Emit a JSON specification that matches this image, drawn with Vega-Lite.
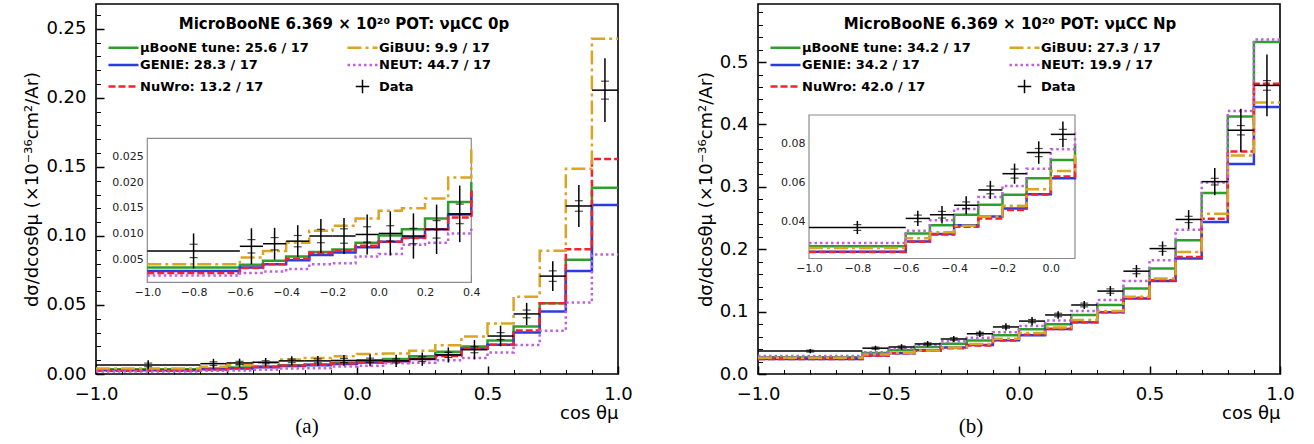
{
  "$schema": "https://vega.github.io/schema/vega-lite/v6.json",
  "background": "white",
  "padding": {"left": 23, "top": 3, "right": 5, "bottom": 0},
  "spacing": 62,
  "datasets": {
    "a_models": [
      {"x": -1.0, "uB": 0.0034, "GENIE": 0.0027, "NuWro": 0.0023, "GiBUU": 0.0040, "NEUT": 0.0018},
      {"x": -0.6, "uB": 0.0039, "GENIE": 0.0034, "NuWro": 0.0033, "GiBUU": 0.0053, "NEUT": 0.0023},
      {"x": -0.5, "uB": 0.0047, "GENIE": 0.0040, "NuWro": 0.0040, "GiBUU": 0.0066, "NEUT": 0.0026},
      {"x": -0.4, "uB": 0.0055, "GENIE": 0.0048, "NuWro": 0.0051, "GiBUU": 0.0082, "NEUT": 0.0031},
      {"x": -0.3, "uB": 0.0064, "GENIE": 0.0058, "NuWro": 0.0062, "GiBUU": 0.0105, "NEUT": 0.0040},
      {"x": -0.2, "uB": 0.0069, "GENIE": 0.0063, "NuWro": 0.0067, "GiBUU": 0.0115, "NEUT": 0.0042},
      {"x": -0.1, "uB": 0.0082, "GENIE": 0.0073, "NuWro": 0.0076, "GiBUU": 0.0129, "NEUT": 0.0055},
      {"x": 0.0, "uB": 0.0096, "GENIE": 0.0084, "NuWro": 0.0084, "GiBUU": 0.0144, "NEUT": 0.0060},
      {"x": 0.1, "uB": 0.0108, "GENIE": 0.0092, "NuWro": 0.0091, "GiBUU": 0.0149, "NEUT": 0.0078},
      {"x": 0.2, "uB": 0.0129, "GENIE": 0.0108, "NuWro": 0.0108, "GiBUU": 0.0168, "NEUT": 0.0082},
      {"x": 0.3, "uB": 0.0161, "GENIE": 0.0137, "NuWro": 0.0131, "GiBUU": 0.0209, "NEUT": 0.0100},
      {"x": 0.4, "uB": 0.0200, "GENIE": 0.0183, "NuWro": 0.0183, "GiBUU": 0.0272, "NEUT": 0.0115},
      {"x": 0.5, "uB": 0.0243, "GENIE": 0.0212, "NuWro": 0.0212, "GiBUU": 0.0366, "NEUT": 0.0156},
      {"x": 0.6, "uB": 0.0344, "GENIE": 0.0300, "NuWro": 0.0315, "GiBUU": 0.0560, "NEUT": 0.0210},
      {"x": 0.7, "uB": 0.0512, "GENIE": 0.0452, "NuWro": 0.0512, "GiBUU": 0.0892, "NEUT": 0.0313},
      {"x": 0.8, "uB": 0.0827, "GENIE": 0.0746, "NuWro": 0.0904, "GiBUU": 0.1486, "NEUT": 0.0517},
      {"x": 0.9, "uB": 0.1349, "GENIE": 0.1224, "NuWro": 0.1558, "GiBUU": 0.2429, "NEUT": 0.0866},
      {"x": 1.0, "uB": 0.1349, "GENIE": 0.1224, "NuWro": 0.1558, "GiBUU": 0.2429, "NEUT": 0.0866}
    ],
    "a_data": [
      {"lo": -1.0, "hi": -0.6, "c": -0.8, "y": 0.0066, "ylo": 0.0032, "yhi": 0.0100, "slo": 0.0053, "shi": 0.0079},
      {"lo": -0.6, "hi": -0.5, "c": -0.55, "y": 0.0075, "ylo": 0.0040, "yhi": 0.0110, "slo": 0.0062, "shi": 0.0088},
      {"lo": -0.5, "hi": -0.4, "c": -0.45, "y": 0.0080, "ylo": 0.0049, "yhi": 0.0111, "slo": 0.0068, "shi": 0.0092},
      {"lo": -0.4, "hi": -0.3, "c": -0.35, "y": 0.0085, "ylo": 0.0054, "yhi": 0.0116, "slo": 0.0074, "shi": 0.0096},
      {"lo": -0.3, "hi": -0.2, "c": -0.25, "y": 0.0095, "ylo": 0.0062, "yhi": 0.0128, "slo": 0.0082, "shi": 0.0108},
      {"lo": -0.2, "hi": -0.1, "c": -0.15, "y": 0.0095, "ylo": 0.0060, "yhi": 0.0130, "slo": 0.0081, "shi": 0.0109},
      {"lo": -0.1, "hi": 0.0, "c": -0.05, "y": 0.0098, "ylo": 0.0059, "yhi": 0.0137, "slo": 0.0083, "shi": 0.0113},
      {"lo": 0.0, "hi": 0.1, "c": 0.05, "y": 0.0100, "ylo": 0.0057, "yhi": 0.0143, "slo": 0.0085, "shi": 0.0115},
      {"lo": 0.1, "hi": 0.2, "c": 0.15, "y": 0.0095, "ylo": 0.0051, "yhi": 0.0139, "slo": 0.0080, "shi": 0.0110},
      {"lo": 0.2, "hi": 0.3, "c": 0.25, "y": 0.0108, "ylo": 0.0060, "yhi": 0.0156, "slo": 0.0091, "shi": 0.0125},
      {"lo": 0.3, "hi": 0.4, "c": 0.35, "y": 0.0138, "ylo": 0.0083, "yhi": 0.0193, "slo": 0.0119, "shi": 0.0157},
      {"lo": 0.4, "hi": 0.5, "c": 0.45, "y": 0.0176, "ylo": 0.0106, "yhi": 0.0246, "slo": 0.0154, "shi": 0.0198},
      {"lo": 0.5, "hi": 0.6, "c": 0.55, "y": 0.0275, "ylo": 0.0200, "yhi": 0.0350, "slo": 0.0250, "shi": 0.0300},
      {"lo": 0.6, "hi": 0.7, "c": 0.65, "y": 0.0435, "ylo": 0.0355, "yhi": 0.0515, "slo": 0.0407, "shi": 0.0463},
      {"lo": 0.7, "hi": 0.8, "c": 0.75, "y": 0.0709, "ylo": 0.0601, "yhi": 0.0817, "slo": 0.0671, "shi": 0.0747},
      {"lo": 0.8, "hi": 0.9, "c": 0.85, "y": 0.1217, "ylo": 0.1065, "yhi": 0.1369, "slo": 0.1179, "shi": 0.1255},
      {"lo": 0.9, "hi": 1.0, "c": 0.95, "y": 0.2056, "ylo": 0.1825, "yhi": 0.2287, "slo": 0.1991, "shi": 0.2121}
    ],
    "b_models": [
      {"x": -1.0, "uB": 0.0270, "GENIE": 0.0242, "NuWro": 0.0240, "GiBUU": 0.0261, "NEUT": 0.0287},
      {"x": -0.6, "uB": 0.0336, "GENIE": 0.0295, "NuWro": 0.0293, "GiBUU": 0.0312, "NEUT": 0.0350},
      {"x": -0.5, "uB": 0.0379, "GENIE": 0.0333, "NuWro": 0.0331, "GiBUU": 0.0342, "NEUT": 0.0405},
      {"x": -0.4, "uB": 0.0433, "GENIE": 0.0379, "NuWro": 0.0371, "GiBUU": 0.0376, "NEUT": 0.0462},
      {"x": -0.3, "uB": 0.0484, "GENIE": 0.0424, "NuWro": 0.0414, "GiBUU": 0.0424, "NEUT": 0.0525},
      {"x": -0.2, "uB": 0.0536, "GENIE": 0.0465, "NuWro": 0.0457, "GiBUU": 0.0479, "NEUT": 0.0582},
      {"x": -0.1, "uB": 0.0621, "GENIE": 0.0539, "NuWro": 0.0537, "GiBUU": 0.0565, "NEUT": 0.0671},
      {"x": 0.0, "uB": 0.0716, "GENIE": 0.0621, "NuWro": 0.0630, "GiBUU": 0.0659, "NEUT": 0.0771},
      {"x": 0.1, "uB": 0.0797, "GENIE": 0.0723, "NuWro": 0.0723, "GiBUU": 0.0744, "NEUT": 0.0856},
      {"x": 0.2, "uB": 0.0946, "GENIE": 0.0829, "NuWro": 0.0829, "GiBUU": 0.0867, "NEUT": 0.1010},
      {"x": 0.3, "uB": 0.1106, "GENIE": 0.0989, "NuWro": 0.0989, "GiBUU": 0.1010, "NEUT": 0.1186},
      {"x": 0.4, "uB": 0.1372, "GENIE": 0.1212, "NuWro": 0.1223, "GiBUU": 0.1239, "NEUT": 0.1489},
      {"x": 0.5, "uB": 0.1690, "GENIE": 0.1489, "NuWro": 0.1504, "GiBUU": 0.1531, "NEUT": 0.1823},
      {"x": 0.6, "uB": 0.2142, "GENIE": 0.1850, "NuWro": 0.1877, "GiBUU": 0.1956, "NEUT": 0.2313},
      {"x": 0.7, "uB": 0.2900, "GENIE": 0.2435, "NuWro": 0.2488, "GiBUU": 0.2568, "NEUT": 0.3070},
      {"x": 0.8, "uB": 0.4125, "GENIE": 0.3365, "NuWro": 0.3567, "GiBUU": 0.3500, "NEUT": 0.4216},
      {"x": 0.9, "uB": 0.5320, "GENIE": 0.4280, "NuWro": 0.4650, "GiBUU": 0.4350, "NEUT": 0.5360},
      {"x": 1.0, "uB": 0.5320, "GENIE": 0.4280, "NuWro": 0.4650, "GiBUU": 0.4350, "NEUT": 0.5360}
    ],
    "b_data": [
      {"lo": -1.0, "hi": -0.6, "c": -0.8, "y": 0.0367, "ylo": 0.0333, "yhi": 0.0401, "slo": 0.0352, "shi": 0.0382},
      {"lo": -0.6, "hi": -0.5, "c": -0.55, "y": 0.0414, "ylo": 0.0375, "yhi": 0.0453, "slo": 0.0397, "shi": 0.0431},
      {"lo": -0.5, "hi": -0.4, "c": -0.45, "y": 0.0433, "ylo": 0.0388, "yhi": 0.0478, "slo": 0.0416, "shi": 0.0450},
      {"lo": -0.4, "hi": -0.3, "c": -0.35, "y": 0.0482, "ylo": 0.0435, "yhi": 0.0529, "slo": 0.0465, "shi": 0.0499},
      {"lo": -0.3, "hi": -0.2, "c": -0.25, "y": 0.0561, "ylo": 0.0514, "yhi": 0.0608, "slo": 0.0541, "shi": 0.0581},
      {"lo": -0.2, "hi": -0.1, "c": -0.15, "y": 0.0645, "ylo": 0.0593, "yhi": 0.0697, "slo": 0.0622, "shi": 0.0668},
      {"lo": -0.1, "hi": 0.0, "c": -0.05, "y": 0.0754, "ylo": 0.0696, "yhi": 0.0812, "slo": 0.0733, "shi": 0.0775},
      {"lo": 0.0, "hi": 0.1, "c": 0.05, "y": 0.0848, "ylo": 0.0782, "yhi": 0.0914, "slo": 0.0822, "shi": 0.0874},
      {"lo": 0.1, "hi": 0.2, "c": 0.15, "y": 0.0946, "ylo": 0.0886, "yhi": 0.1006, "slo": 0.0918, "shi": 0.0974},
      {"lo": 0.2, "hi": 0.3, "c": 0.25, "y": 0.1106, "ylo": 0.1041, "yhi": 0.1171, "slo": 0.1076, "shi": 0.1136},
      {"lo": 0.3, "hi": 0.4, "c": 0.35, "y": 0.1329, "ylo": 0.1249, "yhi": 0.1409, "slo": 0.1294, "shi": 0.1364},
      {"lo": 0.4, "hi": 0.5, "c": 0.45, "y": 0.1648, "ylo": 0.1548, "yhi": 0.1748, "slo": 0.1608, "shi": 0.1688},
      {"lo": 0.5, "hi": 0.6, "c": 0.55, "y": 0.2010, "ylo": 0.1895, "yhi": 0.2125, "slo": 0.1965, "shi": 0.2055},
      {"lo": 0.6, "hi": 0.7, "c": 0.65, "y": 0.2477, "ylo": 0.2327, "yhi": 0.2627, "slo": 0.2427, "shi": 0.2527},
      {"lo": 0.7, "hi": 0.8, "c": 0.75, "y": 0.3083, "ylo": 0.2863, "yhi": 0.3303, "slo": 0.3030, "shi": 0.3136},
      {"lo": 0.8, "hi": 0.9, "c": 0.85, "y": 0.3907, "ylo": 0.3562, "yhi": 0.4252, "slo": 0.3832, "shi": 0.3982},
      {"lo": 0.9, "hi": 1.0, "c": 0.95, "y": 0.4625, "ylo": 0.4130, "yhi": 0.5120, "slo": 0.4548, "shi": 0.4702}
    ]
  },
  "hconcat": [
    {
      "width": 522,
      "height": 370,
      "title": {"text": "(a)", "orient": "bottom", "anchor": "middle", "frame": "group", "dx": -50, "offset": -6, "font": "Liberation Serif", "fontSize": 21, "fontWeight": "normal", "color": "black"},
      "layer": [
        {
          "layer": [
            {
              "data": {"name": "a_models"},
              "transform": [{"fold": ["uB", "GENIE", "NuWro", "GiBUU", "NEUT"], "as": ["model", "val"]}],
              "mark": {"type": "line", "interpolate": "step-after", "strokeWidth": 2.5},
              "encoding": {
                "x": {"field": "x", "type": "quantitative", "scale": {"domain": [-1, 1], "nice": false, "zero": false},
                  "axis": {"orient": "bottom", "values": [-1, -0.5, 0, 0.5, 1], "format": ".1f", "domain": false, "grid": false, "tickSize": -8, "tickWidth": 1.5, "tickColor": "black", "labelFontSize": 18, "labelColor": "black", "labelPadding": 19, "labelFlush": false, "labelOverlap": false, "title": "cos θμ", "titleAnchor": "end", "titleFontSize": 18, "titleFontWeight": "normal", "titleColor": "black", "titlePadding": 1}},
                "y": {"field": "val", "type": "quantitative", "scale": {"domain": [0, 0.268], "nice": false, "zero": false},
                  "axis": {"orient": "left", "values": [0, 0.05, 0.1, 0.15, 0.2, 0.25], "format": ".2f", "domain": false, "grid": false, "tickSize": -8, "tickWidth": 1.5, "tickColor": "black", "labelFontSize": 18, "labelColor": "black", "labelPadding": 18, "labelFlush": false, "labelOverlap": false, "title": "dσ/dcosθμ (×10⁻³⁶cm²/Ar)", "titleFontSize": 18, "titleFontWeight": "normal", "titleColor": "black", "titlePadding": 4}},
                "color": {"field": "model", "type": "nominal",
                  "scale": {"domain": ["uB", "GENIE", "NuWro", "GiBUU", "NEUT", "Data"], "range": ["#2e9e2e", "#2b3be0", "#f5222d", "#daa520", "#bf5fe0", "black"]},
                  "legend": {"orient": "none", "legendX": 21, "legendY": 13, "padding": 0, "title": "MicroBooNE 6.369 × 10²⁰ POT: νμCC 0p", "titleLimit": 500, "titleFontSize": 15, "titleFontWeight": "bold", "titleColor": "black", "titleAnchor": "middle", "titleAlign": "center", "titlePadding": 9, "columns": 2, "columnPadding": 33, "rowPadding": 3.5, "symbolType": "stroke", "symbolSize": 900, "symbolStrokeWidth": 2.5, "labelFontSize": 13, "labelFontWeight": "bold", "labelColor": "black", "labelOffset": 10, "labelLimit": 400,
                    "labelExpr": "datum.label == 'uB' ? 'µBooNE tune: 25.6 / 17' : datum.label == 'GENIE' ? 'GENIE: 28.3 / 17' : datum.label == 'NuWro' ? 'NuWro: 13.2 / 17' : datum.label == 'GiBUU' ? 'GiBUU: 9.9 / 17' : datum.label == 'NEUT' ? 'NEUT: 44.7 / 17' : 'Data'",
                    "encode": {"title": {"update": {"dx": {"value": 40}}}, "symbols": {"update": {"shape": {"signal": "datum.value === 'Data' ? 'M-0.45,0L0.45,0M0,-0.45L0,0.45' : 'stroke'"}, "strokeWidth": {"signal": "datum.value === 'Data' ? 1.5 : 2.5"}}}}}},
                "strokeDash": {"field": "model", "type": "nominal",
                  "scale": {"domain": ["uB", "GENIE", "NuWro", "GiBUU", "NEUT", "Data"], "range": [[1, 0], [1, 0], [7, 3], [14, 4, 3, 4], [2.5, 3], [1, 0]]},
                  "legend": {"orient": "none", "legendX": 21, "legendY": 13, "padding": 0, "title": "MicroBooNE 6.369 × 10²⁰ POT: νμCC 0p", "titleLimit": 500, "titleFontSize": 15, "titleFontWeight": "bold", "titleColor": "black", "titleAnchor": "middle", "titleAlign": "center", "titlePadding": 9, "columns": 2, "columnPadding": 33, "rowPadding": 3.5, "symbolType": "stroke", "symbolSize": 900, "symbolStrokeWidth": 2.5, "labelFontSize": 13, "labelFontWeight": "bold", "labelColor": "black", "labelOffset": 10, "labelLimit": 400,
                    "labelExpr": "datum.label == 'uB' ? 'µBooNE tune: 25.6 / 17' : datum.label == 'GENIE' ? 'GENIE: 28.3 / 17' : datum.label == 'NuWro' ? 'NuWro: 13.2 / 17' : datum.label == 'GiBUU' ? 'GiBUU: 9.9 / 17' : datum.label == 'NEUT' ? 'NEUT: 44.7 / 17' : 'Data'",
                    "encode": {"title": {"update": {"dx": {"value": 40}}}, "symbols": {"update": {"shape": {"signal": "datum.value === 'Data' ? 'M-0.45,0L0.45,0M0,-0.45L0,0.45' : 'stroke'"}, "strokeWidth": {"signal": "datum.value === 'Data' ? 1.5 : 2.5"}}}}}}
              }
            },
            {
              "data": {"name": "a_data"},
              "mark": {"type": "rule", "color": "black", "strokeWidth": 1.5},
              "encoding": {
                "x": {"field": "lo", "type": "quantitative", "axis": {"orient": "bottom", "values": [-0.9, -0.8, -0.7, -0.6, -0.4, -0.3, -0.2, -0.1, 0.1, 0.2, 0.3, 0.4, 0.6, 0.7, 0.8, 0.9], "labels": false, "domain": false, "grid": false, "tickSize": -4.5, "tickWidth": 1, "tickColor": "black", "title": null}},
                "x2": {"field": "hi"},
                "y": {"field": "y", "type": "quantitative", "axis": {"orient": "left", "values": [0.01, 0.02, 0.03, 0.04, 0.06, 0.07, 0.08, 0.09, 0.11, 0.12, 0.13, 0.14, 0.16, 0.17, 0.18, 0.19, 0.21, 0.22, 0.23, 0.24, 0.26], "labels": false, "domain": false, "grid": false, "tickSize": -4.5, "tickWidth": 1, "tickColor": "black", "title": null}}
              }
            },
            {
              "data": {"name": "a_data"},
              "mark": {"type": "rule", "color": "black", "strokeWidth": 1.5},
              "encoding": {
                "x": {"field": "c", "type": "quantitative", "axis": null},
                "y": {"field": "ylo", "type": "quantitative", "axis": null},
                "y2": {"field": "yhi"}
              }
            },
            {
              "data": {"name": "a_data"},
              "mark": {"type": "tick", "orient": "horizontal", "color": "black", "size": 8, "thickness": 1.2},
              "encoding": {
                "x": {"field": "c", "type": "quantitative", "axis": null},
                "y": {"field": "slo", "type": "quantitative", "axis": null}
              }
            },
            {
              "data": {"name": "a_data"},
              "mark": {"type": "tick", "orient": "horizontal", "color": "black", "size": 8, "thickness": 1.2},
              "encoding": {
                "x": {"field": "c", "type": "quantitative", "axis": null},
                "y": {"field": "shi", "type": "quantitative", "axis": null}
              }
            }
          ],
          "resolve": {"axis": {"x": "independent", "y": "independent"}}
        },
        {
          "layer": [
            {
              "data": {"values": [{}]},
              "mark": {"type": "rect", "fill": "white", "stroke": "#8c8c8c", "strokeWidth": 1.2},
              "encoding": {
                "x": {"datum": -1, "type": "quantitative", "scale": {"domain": [-1, 0.4], "range": [51.3, 375.3], "nice": false, "zero": false},
                  "axis": {"orient": "bottom", "offset": -91.7, "values": [-1, -0.8, -0.6, -0.4, -0.2, 0, 0.2, 0.4], "format": ".1f", "domain": false, "grid": false, "tickSize": -8, "tickWidth": 1, "tickColor": "#444", "labelFontSize": 11, "labelColor": "#222", "labelPadding": 12, "labelFlush": false, "labelOverlap": false, "title": null}},
                "x2": {"datum": 0.4},
                "y": {"datum": 0.0005, "type": "quantitative", "scale": {"domain": [0.0005, 0.0285], "range": [278.3, 134.3], "nice": false, "zero": false},
                  "axis": {"orient": "left", "offset": -51.3, "values": [0.005, 0.01, 0.015, 0.02, 0.025], "format": ".3f", "domain": false, "grid": false, "tickSize": -8, "tickWidth": 1, "tickColor": "#444", "labelFontSize": 11, "labelColor": "#222", "labelPadding": 12, "labelFlush": false, "labelOverlap": false, "title": null}},
                "y2": {"datum": 0.0285}
              }
            },
            {
              "data": {"name": "a_models"},
              "transform": [{"filter": "datum.x <= 0.4"}, {"fold": ["uB", "GENIE", "NuWro", "GiBUU", "NEUT"], "as": ["model", "val"]}],
              "mark": {"type": "line", "interpolate": "step-after", "strokeWidth": 2.5},
              "encoding": {
                "x": {"field": "x", "type": "quantitative"},
                "y": {"field": "val", "type": "quantitative"},
                "color": {"field": "model", "type": "nominal"},
                "strokeDash": {"field": "model", "type": "nominal"}
              }
            },
            {
              "data": {"name": "a_data"},
              "transform": [{"filter": "datum.c <= 0.4"}],
              "mark": {"type": "rule", "color": "black", "strokeWidth": 1.5},
              "encoding": {
                "x": {"field": "lo", "type": "quantitative"},
                "x2": {"field": "hi"},
                "y": {"field": "y", "type": "quantitative"}
              }
            },
            {
              "data": {"name": "a_data"},
              "transform": [{"filter": "datum.c <= 0.4"}],
              "mark": {"type": "rule", "color": "black", "strokeWidth": 1.5},
              "encoding": {
                "x": {"field": "c", "type": "quantitative"},
                "y": {"field": "ylo", "type": "quantitative"},
                "y2": {"field": "yhi"}
              }
            },
            {
              "data": {"name": "a_data"},
              "transform": [{"filter": "datum.c <= 0.4"}],
              "mark": {"type": "tick", "orient": "horizontal", "color": "black", "size": 8, "thickness": 1.2},
              "encoding": {
                "x": {"field": "c", "type": "quantitative"},
                "y": {"field": "slo", "type": "quantitative"}
              }
            },
            {
              "data": {"name": "a_data"},
              "transform": [{"filter": "datum.c <= 0.4"}],
              "mark": {"type": "tick", "orient": "horizontal", "color": "black", "size": 8, "thickness": 1.2},
              "encoding": {
                "x": {"field": "c", "type": "quantitative"},
                "y": {"field": "shi", "type": "quantitative"}
              }
            }
          ]
        }
      ],
      "resolve": {"scale": {"x": "independent", "y": "independent"}}
    },
    {
      "width": 522,
      "height": 370,
      "title": {"text": "(b)", "orient": "bottom", "anchor": "middle", "frame": "group", "dx": -48, "offset": -6, "font": "Liberation Serif", "fontSize": 21, "fontWeight": "normal", "color": "black"},
      "layer": [
        {
          "layer": [
            {
              "data": {"name": "b_models"},
              "transform": [{"fold": ["uB", "GENIE", "NuWro", "GiBUU", "NEUT"], "as": ["model", "val"]}],
              "mark": {"type": "line", "interpolate": "step-after", "strokeWidth": 2.5},
              "encoding": {
                "x": {"field": "x", "type": "quantitative", "scale": {"domain": [-1, 1], "nice": false, "zero": false},
                  "axis": {"orient": "bottom", "values": [-1, -0.5, 0, 0.5, 1], "format": ".1f", "domain": false, "grid": false, "tickSize": -8, "tickWidth": 1.5, "tickColor": "black", "labelFontSize": 18, "labelColor": "black", "labelPadding": 19, "labelFlush": false, "labelOverlap": false, "title": "cos θμ", "titleAnchor": "end", "titleFontSize": 18, "titleFontWeight": "normal", "titleColor": "black", "titlePadding": 1}},
                "y": {"field": "val", "type": "quantitative", "scale": {"domain": [0, 0.593], "nice": false, "zero": false},
                  "axis": {"orient": "left", "values": [0, 0.1, 0.2, 0.3, 0.4, 0.5], "format": ".1f", "domain": false, "grid": false, "tickSize": -8, "tickWidth": 1.5, "tickColor": "black", "labelFontSize": 18, "labelColor": "black", "labelPadding": 18, "labelFlush": false, "labelOverlap": false, "title": "dσ/dcosθμ (×10⁻³⁶cm²/Ar)", "titleFontSize": 18, "titleFontWeight": "normal", "titleColor": "black", "titlePadding": 4}},
                "color": {"field": "model", "type": "nominal",
                  "scale": {"domain": ["uB", "GENIE", "NuWro", "GiBUU", "NEUT", "Data"], "range": ["#2e9e2e", "#2b3be0", "#f5222d", "#daa520", "#bf5fe0", "black"]},
                  "legend": {"orient": "none", "legendX": 21, "legendY": 13, "padding": 0, "title": "MicroBooNE 6.369 × 10²⁰ POT: νμCC Np", "titleLimit": 500, "titleFontSize": 15, "titleFontWeight": "bold", "titleColor": "black", "titleAnchor": "middle", "titleAlign": "center", "titlePadding": 9, "columns": 2, "columnPadding": 33, "rowPadding": 3.5, "symbolType": "stroke", "symbolSize": 900, "symbolStrokeWidth": 2.5, "labelFontSize": 13, "labelFontWeight": "bold", "labelColor": "black", "labelOffset": 10, "labelLimit": 400,
                    "labelExpr": "datum.label == 'uB' ? 'µBooNE tune: 34.2 / 17' : datum.label == 'GENIE' ? 'GENIE: 34.2 / 17' : datum.label == 'NuWro' ? 'NuWro: 42.0 / 17' : datum.label == 'GiBUU' ? 'GiBUU: 27.3 / 17' : datum.label == 'NEUT' ? 'NEUT: 19.9 / 17' : 'Data'",
                    "encode": {"title": {"update": {"dx": {"value": 40}}}, "symbols": {"update": {"shape": {"signal": "datum.value === 'Data' ? 'M-0.45,0L0.45,0M0,-0.45L0,0.45' : 'stroke'"}, "strokeWidth": {"signal": "datum.value === 'Data' ? 1.5 : 2.5"}}}}}},
                "strokeDash": {"field": "model", "type": "nominal",
                  "scale": {"domain": ["uB", "GENIE", "NuWro", "GiBUU", "NEUT", "Data"], "range": [[1, 0], [1, 0], [7, 3], [14, 4, 3, 4], [2.5, 3], [1, 0]]},
                  "legend": {"orient": "none", "legendX": 21, "legendY": 13, "padding": 0, "title": "MicroBooNE 6.369 × 10²⁰ POT: νμCC Np", "titleLimit": 500, "titleFontSize": 15, "titleFontWeight": "bold", "titleColor": "black", "titleAnchor": "middle", "titleAlign": "center", "titlePadding": 9, "columns": 2, "columnPadding": 33, "rowPadding": 3.5, "symbolType": "stroke", "symbolSize": 900, "symbolStrokeWidth": 2.5, "labelFontSize": 13, "labelFontWeight": "bold", "labelColor": "black", "labelOffset": 10, "labelLimit": 400,
                    "labelExpr": "datum.label == 'uB' ? 'µBooNE tune: 34.2 / 17' : datum.label == 'GENIE' ? 'GENIE: 34.2 / 17' : datum.label == 'NuWro' ? 'NuWro: 42.0 / 17' : datum.label == 'GiBUU' ? 'GiBUU: 27.3 / 17' : datum.label == 'NEUT' ? 'NEUT: 19.9 / 17' : 'Data'",
                    "encode": {"title": {"update": {"dx": {"value": 40}}}, "symbols": {"update": {"shape": {"signal": "datum.value === 'Data' ? 'M-0.45,0L0.45,0M0,-0.45L0,0.45' : 'stroke'"}, "strokeWidth": {"signal": "datum.value === 'Data' ? 1.5 : 2.5"}}}}}}
              }
            },
            {
              "data": {"name": "b_data"},
              "mark": {"type": "rule", "color": "black", "strokeWidth": 1.5},
              "encoding": {
                "x": {"field": "lo", "type": "quantitative", "axis": {"orient": "bottom", "values": [-0.9, -0.8, -0.7, -0.6, -0.4, -0.3, -0.2, -0.1, 0.1, 0.2, 0.3, 0.4, 0.6, 0.7, 0.8, 0.9], "labels": false, "domain": false, "grid": false, "tickSize": -4.5, "tickWidth": 1, "tickColor": "black", "title": null}},
                "x2": {"field": "hi"},
                "y": {"field": "y", "type": "quantitative", "axis": {"orient": "left", "values": [0.02, 0.04, 0.06, 0.08, 0.12, 0.14, 0.16, 0.18, 0.22, 0.24, 0.26, 0.28, 0.32, 0.34, 0.36, 0.38, 0.42, 0.44, 0.46, 0.48, 0.52, 0.54, 0.56, 0.58], "labels": false, "domain": false, "grid": false, "tickSize": -4.5, "tickWidth": 1, "tickColor": "black", "title": null}}
              }
            },
            {
              "data": {"name": "b_data"},
              "mark": {"type": "rule", "color": "black", "strokeWidth": 1.5},
              "encoding": {
                "x": {"field": "c", "type": "quantitative", "axis": null},
                "y": {"field": "ylo", "type": "quantitative", "axis": null},
                "y2": {"field": "yhi"}
              }
            },
            {
              "data": {"name": "b_data"},
              "mark": {"type": "tick", "orient": "horizontal", "color": "black", "size": 8, "thickness": 1.2},
              "encoding": {
                "x": {"field": "c", "type": "quantitative", "axis": null},
                "y": {"field": "slo", "type": "quantitative", "axis": null}
              }
            },
            {
              "data": {"name": "b_data"},
              "mark": {"type": "tick", "orient": "horizontal", "color": "black", "size": 8, "thickness": 1.2},
              "encoding": {
                "x": {"field": "c", "type": "quantitative", "axis": null},
                "y": {"field": "shi", "type": "quantitative", "axis": null}
              }
            }
          ],
          "resolve": {"axis": {"x": "independent", "y": "independent"}}
        },
        {
          "layer": [
            {
              "data": {"values": [{}]},
              "mark": {"type": "rect", "fill": "white", "stroke": "#8c8c8c", "strokeWidth": 1.2},
              "encoding": {
                "x": {"datum": -1, "type": "quantitative", "scale": {"domain": [-1, 0.1], "range": [51, 317], "nice": false, "zero": false},
                  "axis": {"orient": "bottom", "offset": -115.5, "values": [-1, -0.8, -0.6, -0.4, -0.2, 0], "format": ".1f", "domain": false, "grid": false, "tickSize": -8, "tickWidth": 1, "tickColor": "#444", "labelFontSize": 11, "labelColor": "#222", "labelPadding": 12, "labelFlush": false, "labelOverlap": false, "title": null}},
                "x2": {"datum": 0.1},
                "y": {"datum": 0.0207, "type": "quantitative", "scale": {"domain": [0.0207, 0.0948], "range": [254.5, 111], "nice": false, "zero": false},
                  "axis": {"orient": "left", "offset": -51, "values": [0.04, 0.06, 0.08], "format": ".2f", "domain": false, "grid": false, "tickSize": -8, "tickWidth": 1, "tickColor": "#444", "labelFontSize": 11, "labelColor": "#222", "labelPadding": 12, "labelFlush": false, "labelOverlap": false, "title": null}},
                "y2": {"datum": 0.0948}
              }
            },
            {
              "data": {"name": "b_models"},
              "transform": [{"filter": "datum.x <= 0.1"}, {"fold": ["uB", "GENIE", "NuWro", "GiBUU", "NEUT"], "as": ["model", "val"]}],
              "mark": {"type": "line", "interpolate": "step-after", "strokeWidth": 2.5},
              "encoding": {
                "x": {"field": "x", "type": "quantitative"},
                "y": {"field": "val", "type": "quantitative"},
                "color": {"field": "model", "type": "nominal"},
                "strokeDash": {"field": "model", "type": "nominal"}
              }
            },
            {
              "data": {"name": "b_data"},
              "transform": [{"filter": "datum.c <= 0.1"}],
              "mark": {"type": "rule", "color": "black", "strokeWidth": 1.5},
              "encoding": {
                "x": {"field": "lo", "type": "quantitative"},
                "x2": {"field": "hi"},
                "y": {"field": "y", "type": "quantitative"}
              }
            },
            {
              "data": {"name": "b_data"},
              "transform": [{"filter": "datum.c <= 0.1"}],
              "mark": {"type": "rule", "color": "black", "strokeWidth": 1.5},
              "encoding": {
                "x": {"field": "c", "type": "quantitative"},
                "y": {"field": "ylo", "type": "quantitative"},
                "y2": {"field": "yhi"}
              }
            },
            {
              "data": {"name": "b_data"},
              "transform": [{"filter": "datum.c <= 0.1"}],
              "mark": {"type": "tick", "orient": "horizontal", "color": "black", "size": 8, "thickness": 1.2},
              "encoding": {
                "x": {"field": "c", "type": "quantitative"},
                "y": {"field": "slo", "type": "quantitative"}
              }
            },
            {
              "data": {"name": "b_data"},
              "transform": [{"filter": "datum.c <= 0.1"}],
              "mark": {"type": "tick", "orient": "horizontal", "color": "black", "size": 8, "thickness": 1.2},
              "encoding": {
                "x": {"field": "c", "type": "quantitative"},
                "y": {"field": "shi", "type": "quantitative"}
              }
            }
          ]
        }
      ],
      "resolve": {"scale": {"x": "independent", "y": "independent"}}
    }
  ],
  "resolve": {"scale": {"color": "independent", "strokeDash": "independent"}, "legend": {"color": "independent", "strokeDash": "independent"}},
  "config": {
    "font": "DejaVu Sans",
    "view": {"stroke": "black", "strokeWidth": 1.6},
    "axis": {"labelFont": "DejaVu Sans", "titleFont": "DejaVu Sans"},
    "legend": {"labelFont": "DejaVu Sans", "titleFont": "DejaVu Sans"}
  }
}
